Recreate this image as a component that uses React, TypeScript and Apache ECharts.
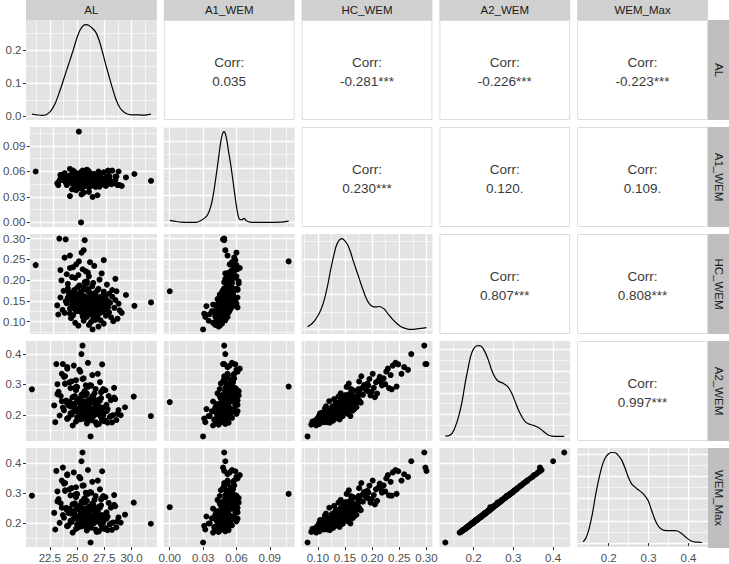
import React, { useEffect, useRef } from "react";
import * as echarts from "echarts";

// ---------------- data ----------------
const VAR_NAMES = ["AL", "A1_WEM", "HC_WEM", "A2_WEM", "WEM_Max"];

const AL = [
  26.8, 25.9, 27.3, 24.6, 26.1, 28.2, 25.4, 27.0, 26.5, 24.9,
  23.0, 24.2, 25.1, 25.7, 26.3, 26.9, 27.5, 28.0, 24.7, 25.5, 26.0, 26.6, 27.2, 28.6, 23.6, 25.9, 26.4, 27.8, 24.4, 25.3, 26.1, 29.0,
  22.9, 23.4, 23.8, 24.1, 24.5, 24.8, 25.0, 25.2, 25.4, 25.6, 25.8, 25.9, 26.0, 26.2, 26.3, 26.5, 26.7, 26.9, 27.1, 27.3, 27.6, 27.9, 28.3, 28.8, 24.3, 25.1, 25.7, 26.1, 26.6, 27.0, 27.4, 25.3,
  23.2, 23.7, 24.0, 24.4, 24.7, 24.9, 25.1, 25.3, 25.5, 25.6, 25.8, 26.0, 26.1, 26.3, 26.4, 26.6, 26.8, 27.0, 27.2, 27.5, 27.7, 28.1, 28.4, 23.9, 24.6, 25.2, 25.7, 26.2, 26.9, 27.4, 25.0, 26.5,
  23.5, 24.2, 24.8, 25.2, 25.6, 25.9, 26.2, 26.5, 26.8, 27.3, 27.8, 24.5, 25.4, 26.0, 26.7, 28.5, 23.9, 25.8,
  23.3, 23.9, 24.6, 25.0, 25.5, 25.9, 26.3, 26.9, 27.6, 24.3, 25.7, 28.4,
  23.2, 23.8, 24.4, 24.9, 25.3, 25.8, 26.4, 27.1, 24.1, 25.6,
  23.6, 24.7, 25.2, 26.0, 24.1, 27.3,
  20.86, 31.77, 30.2, 29.4, 25.15, 24.95, 23.1, 23.7, 25.5, 25.4, 26.24, 24.4, 25.7, 27.7, 28.1, 28.7, 24.1, 25.2, 26.7,
  24.2, 24.5, 24.8, 25.0, 25.2, 25.4, 25.5, 25.7, 25.8, 26.0, 26.1, 26.2, 26.4, 26.5, 26.7, 26.8, 27.0, 27.1, 27.3, 27.5,
  24.6, 24.9, 25.3, 25.6, 25.9, 26.3, 26.6, 26.9, 27.2, 27.6, 24.0, 24.7, 25.1, 25.5, 25.8, 26.2, 26.5, 26.8, 27.4, 25.0,
];

const A1_WEM = [
  0.044, 0.041, 0.047, 0.039, 0.043, 0.046, 0.035, 0.050, 0.042, 0.045,
  0.044, 0.047, 0.040, 0.052, 0.046, 0.043, 0.049, 0.045, 0.038, 0.048, 0.051, 0.042, 0.046, 0.044, 0.050, 0.036, 0.047, 0.053, 0.045, 0.041, 0.049, 0.043,
  0.046, 0.050, 0.044, 0.048, 0.053, 0.041, 0.047, 0.051, 0.045, 0.049, 0.043, 0.052, 0.047, 0.044, 0.050, 0.046, 0.055, 0.042, 0.048, 0.051, 0.045, 0.049, 0.047, 0.044, 0.039, 0.056, 0.050, 0.046, 0.043, 0.052, 0.048, 0.054,
  0.051, 0.047, 0.055, 0.049, 0.044, 0.052, 0.058, 0.046, 0.050, 0.054, 0.048, 0.053, 0.045, 0.057, 0.049, 0.051, 0.047, 0.055, 0.050, 0.043, 0.052, 0.048, 0.054, 0.046, 0.059, 0.051, 0.047, 0.053, 0.050, 0.045, 0.056, 0.049,
  0.053, 0.049, 0.056, 0.051, 0.058, 0.047, 0.054, 0.052, 0.060, 0.050, 0.055, 0.048, 0.053, 0.057, 0.051, 0.054, 0.049, 0.061,
  0.055, 0.051, 0.058, 0.053, 0.049, 0.060, 0.056, 0.052, 0.054, 0.057, 0.062, 0.050,
  0.056, 0.052, 0.059, 0.055, 0.061, 0.053, 0.057, 0.050, 0.063, 0.058,
  0.058, 0.054, 0.060, 0.056, 0.052, 0.059,
  0.060, 0.049, 0.057, 0.053, 0.000, 0.107, 0.049, 0.048, 0.049, 0.050, 0.030, 0.061, 0.062, 0.061, 0.061, 0.060, 0.031, 0.033, 0.032,
  0.047, 0.052, 0.045, 0.050, 0.054, 0.048, 0.043, 0.051, 0.049, 0.046, 0.053, 0.050, 0.044, 0.052, 0.048, 0.055, 0.047, 0.051, 0.045, 0.049,
  0.050, 0.046, 0.053, 0.048, 0.051, 0.044, 0.049, 0.052, 0.046, 0.050, 0.054, 0.047, 0.049, 0.045, 0.052, 0.048, 0.051, 0.046, 0.050, 0.053,
];

const HC_WEM = [
  0.088, 0.092, 0.095, 0.097, 0.099, 0.101, 0.102, 0.103, 0.104, 0.090,
  0.117, 0.108, 0.123, 0.111, 0.106, 0.120, 0.114, 0.110, 0.125, 0.116, 0.119, 0.113, 0.124, 0.107, 0.121, 0.118, 0.109, 0.122, 0.115, 0.112, 0.118, 0.121,
  0.139, 0.128, 0.144, 0.131, 0.136, 0.126, 0.142, 0.133, 0.129, 0.145, 0.134, 0.140, 0.127, 0.138, 0.130, 0.143, 0.132, 0.137, 0.135, 0.141, 0.128, 0.145, 0.133, 0.127, 0.141, 0.136, 0.130, 0.139, 0.142, 0.131, 0.138, 0.135,
  0.158, 0.149, 0.163, 0.147, 0.152, 0.165, 0.155, 0.146, 0.161, 0.150, 0.157, 0.153, 0.148, 0.164, 0.151, 0.159, 0.156, 0.147, 0.162, 0.154, 0.149, 0.160, 0.152, 0.157, 0.148, 0.163, 0.151, 0.155, 0.159, 0.161, 0.153, 0.156,
  0.174, 0.168, 0.182, 0.166, 0.177, 0.171, 0.185, 0.169, 0.179, 0.172, 0.167, 0.176, 0.183, 0.170, 0.175, 0.173, 0.180, 0.178,
  0.199, 0.191, 0.205, 0.187, 0.195, 0.209, 0.193, 0.201, 0.189, 0.207, 0.197, 0.203,
  0.224, 0.214, 0.231, 0.212, 0.226, 0.218, 0.234, 0.216, 0.229, 0.221,
  0.254, 0.238, 0.266, 0.243, 0.259, 0.248,
  0.236, 0.146, 0.138, 0.164, 0.173, 0.245, 0.300, 0.298, 0.296, 0.272, 0.081, 0.158, 0.192, 0.134, 0.176, 0.143, 0.119, 0.137, 0.111,
  0.152, 0.131, 0.165, 0.142, 0.127, 0.158, 0.136, 0.149, 0.121, 0.144, 0.161, 0.133, 0.155, 0.128, 0.147, 0.139, 0.124, 0.153, 0.135, 0.146,
  0.168, 0.129, 0.150, 0.140, 0.157, 0.126, 0.143, 0.134, 0.160, 0.138, 0.171, 0.145, 0.132, 0.154, 0.137, 0.148, 0.123, 0.141, 0.130, 0.163,
];

const A2_WEM = [
  0.168, 0.172, 0.181, 0.165, 0.188, 0.175, 0.196, 0.170, 0.205, 0.178,
  0.176, 0.190, 0.184, 0.198, 0.182, 0.205, 0.179, 0.193, 0.212, 0.187, 0.201, 0.221, 0.192, 0.183, 0.245, 0.196, 0.208, 0.174, 0.228, 0.186, 0.215, 0.199,
  0.231, 0.198, 0.215, 0.187, 0.206, 0.224, 0.193, 0.240, 0.210, 0.201, 0.219, 0.185, 0.228, 0.204, 0.252, 0.196, 0.213, 0.235, 0.207, 0.222, 0.181, 0.262, 0.199, 0.216, 0.244, 0.190, 0.229, 0.209, 0.271, 0.203, 0.218, 0.195,
  0.268, 0.224, 0.247, 0.205, 0.236, 0.281, 0.218, 0.255, 0.229, 0.209, 0.243, 0.292, 0.226, 0.214, 0.261, 0.238, 0.203, 0.250, 0.274, 0.221, 0.233, 0.196, 0.257, 0.303, 0.231, 0.216, 0.265, 0.242, 0.227, 0.285, 0.211, 0.248,
  0.262, 0.231, 0.289, 0.247, 0.272, 0.225, 0.298, 0.256, 0.240, 0.278, 0.219, 0.310, 0.266, 0.244, 0.285, 0.252, 0.327, 0.270,
  0.276, 0.302, 0.258, 0.291, 0.318, 0.270, 0.296, 0.335, 0.281, 0.307, 0.264, 0.289,
  0.301, 0.325, 0.288, 0.314, 0.342, 0.297, 0.331, 0.308, 0.352, 0.320,
  0.335, 0.362, 0.348, 0.371, 0.357, 0.366,
  0.284, 0.196, 0.260, 0.225, 0.242, 0.293, 0.367, 0.367, 0.428, 0.400, 0.129, 0.233, 0.278, 0.212, 0.248, 0.203, 0.188, 0.219, 0.176,
  0.238, 0.201, 0.262, 0.214, 0.219, 0.227, 0.233, 0.244, 0.191, 0.209, 0.251, 0.222, 0.219, 0.197, 0.236, 0.206, 0.213, 0.247, 0.224, 0.212,
  0.258, 0.215, 0.226, 0.229, 0.234, 0.194, 0.241, 0.203, 0.255, 0.211, 0.242, 0.230, 0.218, 0.223, 0.208, 0.239, 0.205, 0.226, 0.199, 0.249,
];

const WEM_Max = [
  0.171, 0.176, 0.184, 0.169, 0.190, 0.178, 0.199, 0.173, 0.210, 0.181,
  0.179, 0.193, 0.186, 0.202, 0.185, 0.208, 0.181, 0.196, 0.216, 0.190, 0.204, 0.225, 0.195, 0.186, 0.251, 0.199, 0.211, 0.177, 0.232, 0.189, 0.218, 0.202,
  0.234, 0.201, 0.218, 0.190, 0.209, 0.228, 0.196, 0.244, 0.213, 0.204, 0.222, 0.188, 0.232, 0.207, 0.257, 0.199, 0.216, 0.239, 0.210, 0.225, 0.184, 0.267, 0.202, 0.219, 0.248, 0.193, 0.233, 0.212, 0.277, 0.206, 0.221, 0.198,
  0.272, 0.227, 0.251, 0.208, 0.240, 0.286, 0.221, 0.259, 0.232, 0.212, 0.247, 0.297, 0.229, 0.217, 0.265, 0.241, 0.206, 0.254, 0.279, 0.224, 0.236, 0.199, 0.261, 0.309, 0.234, 0.219, 0.270, 0.246, 0.230, 0.290, 0.214, 0.252,
  0.266, 0.234, 0.294, 0.251, 0.277, 0.228, 0.303, 0.260, 0.243, 0.283, 0.222, 0.316, 0.271, 0.248, 0.290, 0.256, 0.333, 0.275,
  0.280, 0.307, 0.262, 0.296, 0.324, 0.274, 0.301, 0.341, 0.286, 0.312, 0.268, 0.293,
  0.305, 0.331, 0.292, 0.319, 0.348, 0.301, 0.337, 0.312, 0.359, 0.325,
  0.341, 0.368, 0.353, 0.376, 0.362, 0.372,
  0.291, 0.198, 0.268, 0.228, 0.253, 0.297, 0.373, 0.384, 0.434, 0.405, 0.136, 0.236, 0.283, 0.215, 0.251, 0.206, 0.191, 0.222, 0.179,
  0.241, 0.204, 0.266, 0.217, 0.222, 0.230, 0.236, 0.248, 0.194, 0.212, 0.255, 0.225, 0.222, 0.200, 0.239, 0.209, 0.216, 0.251, 0.227, 0.215,
  0.262, 0.218, 0.229, 0.232, 0.238, 0.197, 0.245, 0.206, 0.259, 0.214, 0.246, 0.233, 0.221, 0.226, 0.211, 0.242, 0.208, 0.229, 0.202, 0.253,
];

// density curves: [value, density]
const DENS_AL = [
  [20.86, 0.007], [21.3, 0.005], [21.8, 0.003], [22.2, 0.006], [22.6, 0.017], [23.0, 0.04], [23.4, 0.075], [23.8, 0.115],
  [24.2, 0.155], [24.6, 0.195], [25.0, 0.238], [25.3, 0.262], [25.6, 0.275], [25.85, 0.277], [26.1, 0.274], [26.4, 0.266],
  [26.7, 0.255], [27.0, 0.232], [27.3, 0.198], [27.6, 0.16], [27.9, 0.125], [28.2, 0.09], [28.5, 0.058], [28.8, 0.034],
  [29.1, 0.019], [29.5, 0.009], [30.0, 0.005], [30.5, 0.005], [31.0, 0.004], [31.4, 0.005], [31.77, 0.007],
];
const DENS_A1 = [
  [0, 1.5], [0.004, 1.0], [0.01, 0.2], [0.018, 0.0], [0.024, 0.1], [0.028, 1.5], [0.031, 3.0], [0.034, 5.5],
  [0.037, 12], [0.0395, 22], [0.042, 36], [0.044, 48], [0.046, 60], [0.0475, 65.5], [0.0488, 67], [0.05, 65.5],
  [0.0515, 60], [0.053, 52], [0.055, 42], [0.057, 30], [0.0587, 19.5], [0.06, 12], [0.0615, 5], [0.0627, 2.5],
  [0.0647, 2], [0.067, 3], [0.069, 1.2], [0.072, 0.3], [0.08, 0.0], [0.09, 0.0], [0.1, 0.3], [0.107, 1.0],
];
const DENS_HC = [
  [0.081, 0.3], [0.09, 0.7], [0.0995, 1.5], [0.106, 2.3], [0.112, 3.4], [0.118, 5.0], [0.124, 6.9], [0.129, 8.3],
  [0.1335, 9.4], [0.139, 10.1], [0.1443, 10.3], [0.149, 10.1], [0.1548, 9.6], [0.16, 8.8], [0.165, 7.8], [0.1705, 6.8],
  [0.1765, 5.7], [0.1825, 4.6], [0.1886, 3.6], [0.195, 2.9], [0.201, 2.6], [0.207, 2.55], [0.2133, 2.6], [0.2225, 2.3],
  [0.23, 1.7], [0.2378, 1.14], [0.245, 0.7], [0.2532, 0.3], [0.262, 0.1], [0.2716, 0.0], [0.28, 0.03], [0.29, 0.12], [0.3, 0.2],
];
const DENS_A2 = [
  [0.129, 0.05], [0.138, 0.1], [0.146, 0.3], [0.154, 0.9], [0.1625, 1.85], [0.171, 3.2], [0.179, 4.9], [0.186, 6.2],
  [0.192, 7.25], [0.2, 8.0], [0.2085, 8.28], [0.215, 8.3], [0.221, 8.18], [0.229, 7.7], [0.2375, 6.95], [0.246, 6.0],
  [0.254, 5.4], [0.262, 5.05], [0.271, 4.92], [0.279, 4.75], [0.2875, 4.5], [0.296, 3.95], [0.304, 3.24], [0.312, 2.5],
  [0.321, 1.85], [0.329, 1.4], [0.3375, 1.18], [0.346, 1.08], [0.354, 0.98], [0.362, 0.85], [0.371, 0.62], [0.379, 0.38],
  [0.3875, 0.16], [0.398, 0.05], [0.41, 0.02], [0.428, 0.02],
];
const DENS_WM = [
  [0.136, 0.1], [0.143, 0.45], [0.1506, 1.26], [0.159, 2.6], [0.167, 4.28], [0.175, 5.7], [0.1835, 6.95], [0.192, 7.7],
  [0.2, 8.03], [0.208, 8.15], [0.2165, 8.13], [0.225, 7.85], [0.233, 7.44], [0.241, 6.75], [0.249, 5.94], [0.257, 5.35],
  [0.266, 5.03], [0.274, 4.8], [0.282, 4.58], [0.29, 4.3], [0.2988, 3.82], [0.307, 3.0], [0.3153, 2.17], [0.323, 1.6],
  [0.3316, 1.26], [0.34, 1.14], [0.348, 1.11], [0.357, 1.12], [0.365, 1.12], [0.3728, 1.08], [0.381, 0.9], [0.3894, 0.66],
  [0.397, 0.42], [0.4057, 0.21], [0.415, 0.1], [0.434, 0.05],
];

// tick labels
const AL_TICKS = [22.5, 25.0, 27.5, 30.0];
const A1_TICKS = [0, 0.03, 0.06, 0.09];
const HC_TICKS = [0.1, 0.15, 0.2, 0.25, 0.3];
const A2_TICKS = [0.2, 0.3, 0.4];
const WM_TICKS = [0.2, 0.3, 0.4];
// density-scale gridlines of the diagonal panels
const AL_DENS_TICKS = [0, 0.1, 0.2];
const A1_DENS_TICKS = [0, 20, 40, 60];
const HC_DENS_TICKS = [0, 4, 8];
const A2_DENS_TICKS = [0, 2, 4, 6, 8];
const WM_DENS_TICKS = [0, 2, 4, 6, 8];

// correlation labels of the upper panels [row][col]
const CORR_LABELS: (string | null)[][] = [
  [null, "0.035", "-0.281***", "-0.226***", "-0.223***"],
  [null, null, "0.230***", "0.120.", "0.109."],
  [null, null, null, "0.807***", "0.808***"],
  [null, null, null, null, "0.997***"],
  [null, null, null, null, null],
];

// ---------------- layout / style ----------------
const FONT = '"Liberation Sans", Arial, Helvetica, sans-serif';
const PANEL_L = 26;
const PANEL_T = 20;
const PANEL_W = 130.8;
const PANEL_H = 100;
const GAP = 7;
const PANEL_BG = "#E3E3E3";
const TOP_STRIP = "#D0D0D0";
const RIGHT_STRIP = "#BFBFBF";
const LABEL_SIZE = 11.5;

const colX = (c: number) => PANEL_L + c * (PANEL_W + GAP);
const rowY = (r: number) => PANEL_T + r * (PANEL_H + GAP);

function expand(vals: number[]): [number, number] {
  const mn = Math.min(...vals);
  const mx = Math.max(...vals);
  const d = (mx - mn) * 0.05;
  return [mn - d, mx + d];
}

function minorOf(major: number[], range: [number, number]) {
  const s = major[1] - major[0];
  const c = [major[0] - s / 2, ...major.map((t) => t + s / 2)];
  return c.filter((v) => v > range[0] && v < range[1]);
}

function makeAxis(gridIndex: number, range: [number, number], values: number[], major: boolean, show: boolean, dec: number, pos: string, margin: number) {
  return {
    type: "value",
    gridIndex,
    position: pos,
    min: range[0],
    max: range[1],
    axisLine: { show: false },
    axisTick: { show, length: 3, lineStyle: { color: "#333333", width: 1 }, customValues: values },
    axisLabel: {
      show,
      customValues: values,
      formatter: (v: number) => v.toFixed(dec),
      color: "#4D4D4D",
      fontSize: LABEL_SIZE,
      fontFamily: FONT,
      margin,
    },
    splitLine: { show: true, lineStyle: { color: "#FFFFFF", width: major ? 1.3 : 0.6 } },
    splitArea: { show: false },
    minorTick: { show: false },
    minorSplitLine: { show: false },
  };
}

export default function App() {
  const ref = useRef<HTMLDivElement>(null);

  useEffect(() => {
    if (!ref.current) return;
    const chart = echarts.init(ref.current, undefined, { renderer: "svg" });

    const vars = [AL, A1_WEM, HC_WEM, A2_WEM, WEM_Max];
    const dens = [DENS_AL, DENS_A1, DENS_HC, DENS_A2, DENS_WM];
    const ticks = [AL_TICKS, A1_TICKS, HC_TICKS, A2_TICKS, WM_TICKS];
    const densTicks = [AL_DENS_TICKS, A1_DENS_TICKS, HC_DENS_TICKS, A2_DENS_TICKS, WM_DENS_TICKS];
    const decimals = [1, 2, 2, 1, 1];
    const ranges = vars.map((v) => expand(v));

    const grid: any[] = [];
    const xAxis: any[] = [];
    const yAxis: any[] = [];
    const series: any[] = [];
    const graphic: any[] = [];

    let g = 0;
    for (let r = 0; r < 5; r++) {
      for (let c = 0; c < 5; c++) {
        const x = colX(c);
        const y = rowY(r);
        if (c > r) {
          graphic.push({
            type: "rect",
            silent: true,
            shape: { x: x + 0.5, y: y + 0.5, width: PANEL_W - 1, height: PANEL_H - 1 },
            style: { fill: "#FFFFFF", stroke: "#DCDCDC", lineWidth: 1 },
          });
          const txt = (t: string, dy: number) => ({
            type: "text",
            silent: true,
            x: x + PANEL_W / 2,
            y: y + PANEL_H / 2 + dy,
            style: {
              text: t,
              fill: "#3A3A3A",
              fontSize: 13.5,
              fontFamily: FONT,
              align: "center",
              verticalAlign: "middle",
              textAlign: "center",
              textVerticalAlign: "middle",
            },
          });
          graphic.push(txt("Corr:", -7.5));
          graphic.push(txt(CORR_LABELS[r][c] as string, 11));
          continue;
        }
        grid.push({
          left: x,
          top: y,
          width: PANEL_W,
          height: PANEL_H,
          show: true,
          backgroundColor: PANEL_BG,
          borderWidth: 0,
          containLabel: false,
        });
        const xr = ranges[c];
        const xMaj = ticks[c];
        const xMin = minorOf(xMaj, xr);
        let yr: [number, number];
        let yMaj: number[];
        if (r === c) {
          yr = expand(dens[c].map((p) => p[1]));
          yMaj = densTicks[c];
        } else {
          yr = ranges[r];
          yMaj = ticks[r];
        }
        const yMin = minorOf(yMaj, yr);
        const showX = r === 4;
        const showY = c === 0;
        const yDec = r === c ? 1 : decimals[r];
        xAxis.push(makeAxis(g, xr, xMin, false, false, decimals[c], "bottom", 5));
        xAxis.push(makeAxis(g, xr, xMaj, true, showX, decimals[c], "bottom", 5));
        yAxis.push(makeAxis(g, yr, yMin, false, false, yDec, "left", 4.5));
        yAxis.push(makeAxis(g, yr, yMaj, true, showY, yDec, "left", 4.5));

        if (r === c) {
          series.push({
            type: "line",
            xAxisIndex: 2 * g + 1,
            yAxisIndex: 2 * g + 1,
            data: dens[c],
            symbol: "none",
            showSymbol: false,
            smooth: 0.3,
            silent: true,
            lineStyle: { color: "#000000", width: 1.2 },
            z: 3,
          });
        } else {
          const xs = vars[c];
          const ys = vars[r];
          series.push({
            type: "scatter",
            xAxisIndex: 2 * g + 1,
            yAxisIndex: 2 * g + 1,
            data: xs.map((v, i) => [v, ys[i]]),
            symbol: "circle",
            symbolSize: 6,
            silent: true,
            itemStyle: { color: "#000000", opacity: 1 },
            z: 3,
          });
        }
        g++;
      }
    }

    // top strips
    for (let c = 0; c < 5; c++) {
      graphic.push({
        type: "rect",
        silent: true,
        shape: { x: colX(c), y: 0, width: PANEL_W, height: PANEL_T },
        style: { fill: TOP_STRIP },
      });
      graphic.push({
        type: "text",
        silent: true,
        x: colX(c) + PANEL_W / 2,
        y: PANEL_T / 2,
        style: {
          text: VAR_NAMES[c],
          fill: "#1A1A1A",
          fontSize: LABEL_SIZE,
          fontFamily: FONT,
          align: "center",
          verticalAlign: "middle",
          textAlign: "center",
          textVerticalAlign: "middle",
        },
      });
    }
    // right strips
    const stripX = colX(4) + PANEL_W;
    for (let r = 0; r < 5; r++) {
      graphic.push({
        type: "rect",
        silent: true,
        shape: { x: stripX, y: rowY(r), width: 729 - stripX, height: PANEL_H },
        style: { fill: RIGHT_STRIP },
      });
      graphic.push({
        type: "text",
        silent: true,
        x: stripX + (729 - stripX) / 2,
        y: rowY(r) + PANEL_H / 2,
        rotation: -Math.PI / 2,
        style: {
          text: VAR_NAMES[r],
          fill: "#1A1A1A",
          fontSize: LABEL_SIZE,
          fontFamily: FONT,
          align: "center",
          verticalAlign: "middle",
          textAlign: "center",
          textVerticalAlign: "middle",
        },
      });
    }

    chart.setOption({
      animation: false,
      backgroundColor: "#FFFFFF",
      grid,
      xAxis,
      yAxis,
      series,
      graphic,
    });

    return () => chart.dispose();
  }, []);

  return (
    <div
      ref={ref}
      style={{ position: "absolute", left: 0, top: 0, width: 729, height: 564, background: "#FFFFFF" }}
    />
  );
}
